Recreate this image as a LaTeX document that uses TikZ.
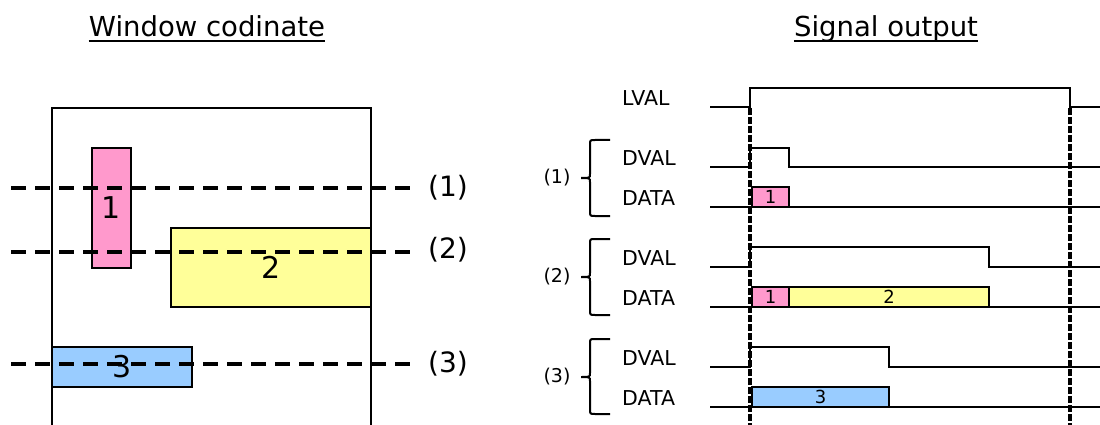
\documentclass[tikz,border=0pt]{standalone}
\usepackage{fontspec}
\setmainfont{DejaVu Sans}
\definecolor{pinkbox}{HTML}{FF99CC}
\definecolor{yellowbox}{HTML}{FFFF99}
\definecolor{bluebox}{HTML}{99CCFF}

\begin{document}
\begin{tikzpicture}[x=1pt,y=-1pt,
  head/.style={font=\fontsize{27.5}{30}\selectfont,inner sep=0pt,anchor=base},
  win/.style={line width=2pt},
  blk/.style={draw,line width=1.6pt,inner sep=0pt},
  blknum/.style={font=\fontsize{30}{32}\selectfont},
  datnum/.style={font=\fontsize{18}{20}\selectfont},
  scan/.style={line width=4pt,dash pattern=on 15pt off 9pt},
  linetag/.style={font=\fontsize{28}{30}\selectfont,inner sep=0pt,anchor=west},
  sig/.style={line width=2pt},
  lbl/.style={font=\fontsize{20.5}{24}\selectfont,inner sep=0pt,anchor=west},
  grp/.style={font=\fontsize{19}{20}\selectfont,inner sep=0pt},
  brc/.style={line width=2pt},
  sync/.style={line width=3.5pt,dash pattern=on 7pt off 2pt}
]
  \useasboundingbox (0,0) rectangle (1100,425);

  % window coordinate
  \node at (207,37) (wtitle) [head] {Window codinate};
  \draw[line width=2.2pt] ([yshift=-4pt]wtitle.base west) -- ([yshift=-4pt]wtitle.base east);
  \draw[win] (52,425) -- (52,108) -- (371,108) -- (371,425);
  \node at (111.5,208) (r1) [blk,blknum,fill=pinkbox,minimum width=39pt,minimum height=120pt] {1};
  \node at (271,267.5) (r2) [blk,blknum,fill=yellowbox,minimum width=200pt,minimum height=79pt] {2};
  \node at (122,367) (r3) [blk,blknum,fill=bluebox,minimum width=140pt,minimum height=40pt] {3};
  \draw[scan] (11,188) -- (413,188);
  \draw[scan] (11,252) -- (413,252);
  \draw[scan] (11,364) -- (413,364);
  \node at (428,188) (c1) [linetag] {(1)};
  \node at (428,250) (c2) [linetag] {(2)};
  \node at (428,364) (c3) [linetag] {(3)};

  % signal output
  \node at (886,37) (stitle) [head] {Signal output};
  \draw[line width=2.2pt] ([yshift=-4pt]stitle.base west) -- ([yshift=-4pt]stitle.base east);
  \node at (622,98) (lval) [lbl] {LVAL};
  \draw[sig] (710,107) -- (750,107) -- (750,88) -- (1070,88) -- (1070,107) -- (1100,107);

  \node at (622,158) (dval1) [lbl] {DVAL};
  \node at (622,198) (data1) [lbl] {DATA};
  \draw[sig] (710,167) -- (750,167) -- (750,148) -- (789,148) -- (789,167) -- (1100,167);
  \draw[sig] (710,207) -- (1100,207);
  \node at (770.5,197) (d1a) [blk,datnum,fill=pinkbox,minimum width=37pt,minimum height=20pt] {1};
  \draw[brc] (610,140) -- (595,140) .. controls (590,140) .. (590,145) -- (590,174)
    .. controls (590,178) .. (581,178) .. controls (590,178) .. (590,182) -- (590,211)
    .. controls (590,216) .. (595,216) -- (610,216);
  \node at (557,178) (g1) [grp] {(1)};

  \node at (622,258) (dval2) [lbl] {DVAL};
  \node at (622,298) (data2) [lbl] {DATA};
  \draw[sig] (710,267) -- (750,267) -- (750,247) -- (989,247) -- (989,267) -- (1100,267);
  \draw[sig] (710,307) -- (1100,307);
  \node at (770.5,297) (d2a) [blk,datnum,fill=pinkbox,minimum width=37pt,minimum height=20pt] {1};
  \node at (889,297) (d2b) [blk,datnum,fill=yellowbox,minimum width=200pt,minimum height=20pt] {2};
  \draw[brc] (610,239) -- (595,239) .. controls (590,239) .. (590,244) -- (590,273)
    .. controls (590,277) .. (581,277) .. controls (590,277) .. (590,281) -- (590,310)
    .. controls (590,315) .. (595,315) -- (610,315);
  \node at (557,277) (g2) [grp] {(2)};

  \node at (622,358) (dval3) [lbl] {DVAL};
  \node at (622,398) (data3) [lbl] {DATA};
  \draw[sig] (710,367) -- (750,367) -- (750,347) -- (889,347) -- (889,367) -- (1100,367);
  \draw[sig] (710,407) -- (1100,407);
  \node at (820.5,397) (d3a) [blk,datnum,fill=bluebox,minimum width=137pt,minimum height=20pt] {3};
  \draw[brc] (610,339) -- (595,339) .. controls (590,339) .. (590,344) -- (590,373)
    .. controls (590,377) .. (581,377) .. controls (590,377) .. (590,381) -- (590,409)
    .. controls (590,414) .. (595,414) -- (610,414);
  \node at (557,377) (g3) [grp] {(3)};

  \draw[sync] (750,108) -- (750,425);
  \draw[sync] (1070,108) -- (1070,425);
\end{tikzpicture}
\end{document}
